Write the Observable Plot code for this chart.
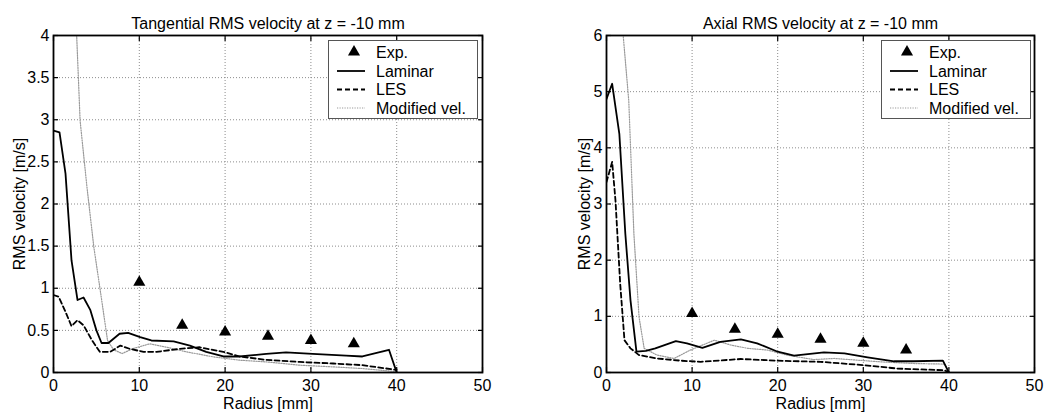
<!DOCTYPE html>
<html>
<head>
<meta charset="utf-8">
<script src="https://cdn.jsdelivr.net/npm/d3@7"></script>
<script src="https://cdn.jsdelivr.net/npm/@observablehq/plot@0.6"></script>
<style>
  html, body { margin: 0; padding: 0; background: #fff; }
  #wrap { position: relative; width: 1044px; height: 414px; background: #fff; overflow: hidden; }
</style>
</head>
<body>
<div id="wrap"></div>
<script>
// ---------- data ----------
const xTicks = [0, 10, 20, 30, 40, 50];
const yTicksTan = [0, 0.5, 1, 1.5, 2, 2.5, 3, 3.5, 4];
const yTicksAx = [0, 1, 2, 3, 4, 5, 6];
const seriesNames = ["Exp.", "Laminar", "LES", "Modified vel."];

// Tangential RMS velocity
const tanLamR = [0, 0.7, 1.4, 2.1, 2.8, 3.5, 4.3, 5.0, 5.6, 6.4, 7.7, 8.7, 10.1, 11.4, 14, 15.9, 17.8, 19.8, 21.7, 24.8, 27.1, 30.2, 34.1, 36, 39.1, 40];
const tanLamV = [2.87, 2.85, 2.36, 1.33, 0.86, 0.89, 0.74, 0.50, 0.35, 0.35, 0.46, 0.47, 0.42, 0.38, 0.37, 0.32, 0.245, 0.19, 0.19, 0.22, 0.24, 0.22, 0.20, 0.19, 0.27, 0];
const tanLesR = [0, 0.6, 1.4, 2.1, 2.8, 3.5, 4.5, 5.4, 6.6, 7.8, 8.9, 10.5, 12, 14.7, 17, 19.8, 21.7, 24.8, 28.7, 32.6, 36, 40];
const tanLesV = [0.92, 0.90, 0.72, 0.55, 0.62, 0.56, 0.38, 0.245, 0.245, 0.32, 0.28, 0.245, 0.245, 0.28, 0.30, 0.245, 0.19, 0.15, 0.125, 0.107, 0.087, 0.03];
const tanModR = [2.5, 2.7, 3.1, 3.9, 4.7, 5.5, 6.3, 7.0, 8.0, 9.3, 11.2, 13.2, 15.5, 18.6, 21.7, 24.8, 28.7, 32.6, 36, 40];
const tanModV = [4.6, 4.0, 2.99, 2.2, 1.49, 0.94, 0.38, 0.27, 0.225, 0.285, 0.34, 0.30, 0.245, 0.186, 0.146, 0.126, 0.087, 0.067, 0.047, 0.01];
const tanExpR = [10, 15, 20, 25, 30, 35];
const tanExpV = [1.07, 0.56, 0.48, 0.43, 0.38, 0.34];

// Axial RMS velocity
const axLamR = [0, 0.66, 1.5, 2.2, 2.8, 3.5, 4.6, 5.7, 8.1, 9.4, 11.2, 13.3, 15.7, 17.6, 20, 21.9, 25.4, 27.8, 30.5, 33.6, 35.9, 39.3, 40];
const axLamV = [4.87, 5.14, 4.25, 2.47, 1.29, 0.37, 0.385, 0.43, 0.56, 0.52, 0.44, 0.545, 0.59, 0.52, 0.37, 0.30, 0.36, 0.34, 0.27, 0.20, 0.20, 0.21, 0];
const axLesR = [0, 0.66, 1.05, 1.6, 2.1, 2.8, 3.8, 5.9, 8.7, 11, 15.7, 20, 25, 30.1, 34, 39.5, 40];
const axLesV = [3.39, 3.75, 3.06, 1.58, 0.575, 0.43, 0.31, 0.25, 0.21, 0.19, 0.24, 0.21, 0.19, 0.13, 0.07, 0.04, 0];
const axModR = [1.8, 1.95, 2.6, 3.2, 3.8, 4.4, 5.9, 7.9, 9.8, 12.6, 14.5, 16.5, 18.8, 21.1, 24.2, 26.6, 29.3, 32, 35.9, 39.5, 40];
const axModV = [6.6, 6.0, 4.84, 2.47, 0.99, 0.43, 0.31, 0.25, 0.40, 0.575, 0.49, 0.43, 0.40, 0.31, 0.23, 0.25, 0.22, 0.19, 0.16, 0.15, 0];
const axExpR = [10, 15, 20, 25, 30, 35];
const axExpV = [1.05, 0.77, 0.68, 0.59, 0.52, 0.40];

// ---------- styles ----------
const FONT = "'Liberation Sans', Arial, Helvetica, sans-serif";
const LW = 1.8;
const lamStyle = {stroke: "#000", strokeWidth: LW};
const lesStyle = {stroke: "#000", strokeWidth: LW, strokeDasharray: "5,3"};
const modStyle = {stroke: "#9a9a9a", strokeWidth: 1.2, strokeDasharray: "1.2,1.3"};

const rows = (r, v) => r.map((x, i) => ({r: x, v: v[i]}));
const blank = () => "";

function panel(o) {
  const marks = [
    Plot.gridX(xTicks, {stroke: "#8c8c8c", strokeOpacity: 1, strokeDasharray: "1,2"}),
    Plot.gridY(o.yTicks, {stroke: "#8c8c8c", strokeOpacity: 1, strokeDasharray: "1,2"}),
    Plot.line(rows(o.modR, o.modV), {x: "r", y: "v", clip: true, ...modStyle}),
    Plot.line(rows(o.lesR, o.lesV), {x: "r", y: "v", clip: true, ...lesStyle}),
    Plot.line(rows(o.lamR, o.lamV), {x: "r", y: "v", clip: true, ...lamStyle}),
    Plot.dot(rows(o.expR, o.expV), {x: "r", y: "v", symbol: "triangle", r: 4.5, fill: "#000", stroke: "none"}),
    Plot.axisX(xTicks, {anchor: "bottom", tickSize: 0, tickPadding: 7, tickFormat: d => String(d),
      label: "Radius [mm]", labelAnchor: "center", labelArrow: "none", labelOffset: 36, fontSize: 16}),
    Plot.axisY(o.yTicks, {anchor: "left", tickSize: 0, tickPadding: 4, tickFormat: d => String(d),
      label: "RMS velocity [m/s]", labelAnchor: "center", labelArrow: "none", labelOffset: o.labelOffset, fontSize: 16}),
    Plot.axisX(xTicks, {anchor: "bottom", tickSize: -5, strokeWidth: 1.2, tickFormat: blank, label: null}),
    Plot.axisX(xTicks, {anchor: "top", tickSize: -5, strokeWidth: 1.2, tickFormat: blank, label: null}),
    Plot.axisY(o.yTicks, {anchor: "left", tickSize: -5, strokeWidth: 1.2, tickFormat: blank, label: null}),
    Plot.axisY(o.yTicks, {anchor: "right", tickSize: -5, strokeWidth: 1.2, tickFormat: blank, label: null}),
    Plot.frame({stroke: "#000", strokeWidth: 1.8}),
    Plot.text([o.title], {frameAnchor: "top", dy: -18, text: d => d, fontSize: 16, fill: "#000"})
  ];
  return Plot.plot({
    width: 522, height: 414,
    marginTop: 35, marginBottom: 42, marginLeft: o.marginLeft, marginRight: o.marginRight,
    style: {fontFamily: FONT, fontSize: "16px", background: "#fff", color: "#000", overflow: "visible"},
    x: {domain: [0, 50]},
    y: {domain: [0, o.yMax]},
    marks
  });
}

function legend(left, top) {
  const w = 150, h = 79;
  const svg = d3.create("svg").attr("width", w).attr("height", h)
    .style("position", "absolute").style("left", left + "px").style("top", top + "px");
  svg.append("rect").attr("x", 0.5).attr("y", 0.5).attr("width", w - 1).attr("height", h - 1)
    .attr("fill", "#fff").attr("stroke", "#555").attr("stroke-width", 1);
  const ys = [12, 31, 49.5, 68];
  const styles = [null, lamStyle, lesStyle, modStyle];
  seriesNames.forEach((name, i) => {
    const y = ys[i];
    if (i === 0) {
      svg.append("path").attr("d", d3.symbol(d3.symbolTriangle, 4.5 * 4.5 * Math.PI)())
        .attr("transform", `translate(26,${y})`).attr("fill", "#000");
    } else {
      const s = styles[i];
      svg.append("line").attr("x1", 9).attr("x2", 37).attr("y1", y).attr("y2", y)
        .attr("stroke", s.stroke).attr("stroke-width", s.strokeWidth)
        .attr("stroke-dasharray", s.strokeDasharray || null);
    }
    svg.append("text").attr("x", 48).attr("y", y).attr("dy", "0.35em")
      .attr("font-family", FONT).attr("font-size", 16).attr("fill", "#000").text(name);
  });
  return svg.node();
}

const wrap = document.getElementById("wrap");

const left = panel({
  title: "Tangential RMS velocity at z = -10 mm",
  lamR: tanLamR, lamV: tanLamV, lesR: tanLesR, lesV: tanLesV, modR: tanModR, modV: tanModV,
  expR: tanExpR, expV: tanExpV, yMax: 4, yTicks: yTicksTan,
  marginLeft: 53, marginRight: 40, labelOffset: 40
});
left.style.position = "absolute";
left.style.left = "0px";
left.style.top = "0px";
wrap.appendChild(left);

const right = panel({
  title: "Axial RMS velocity at z = -10 mm",
  lamR: axLamR, lamV: axLamV, lesR: axLesR, lesV: axLesV, modR: axModR, modV: axModV,
  expR: axExpR, expV: axExpV, yMax: 6, yTicks: yTicksAx,
  marginLeft: 84, marginRight: 10, labelOffset: 28
});
right.style.position = "absolute";
right.style.left = "522px";
right.style.top = "0px";
wrap.appendChild(right);

wrap.appendChild(legend(328, 40));
wrap.appendChild(legend(881, 40));
</script>
</body>
</html>
